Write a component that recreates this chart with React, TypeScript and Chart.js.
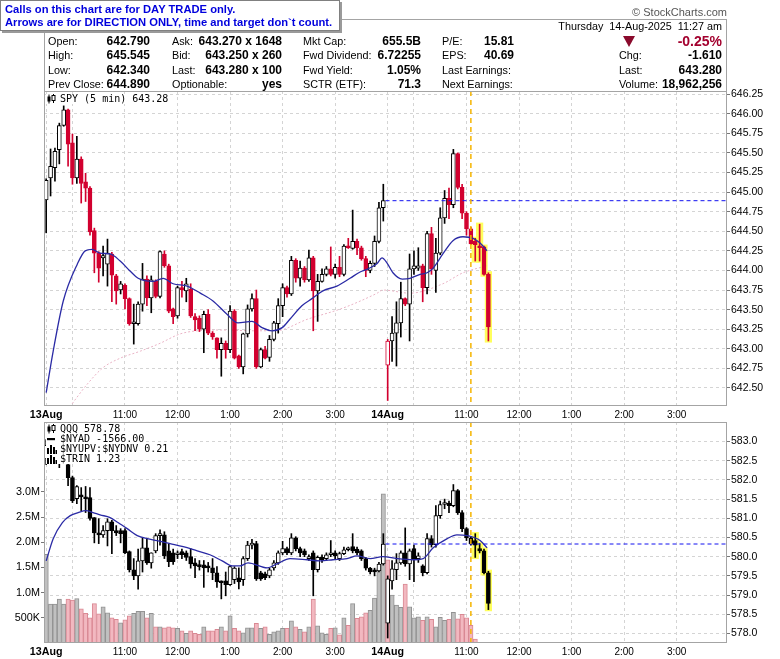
import React, { useEffect, useRef } from 'react';
import { Chart, registerables } from 'chart.js';

Chart.register(...registerables);

// ---------------- DATA ----------------
// 5-minute candles, index 0 = 13 Aug 9:30; index 78 = 14 Aug 9:30
const spyOpen = [644.90, 645.18, 645.31, 645.54, 645.85, 646.05, 645.63, 645.18, 645.42, 645.13,
  645.05, 644.51, 644.22, 644.16, 644.08, 644.21, 643.93, 643.75, 643.81, 643.64,
  643.32, 643.32, 643.57, 643.89, 643.65, 643.86, 643.67, 644.21, 644.06, 643.51,
  643.42, 643.78, 643.74, 643.76, 643.41, 643.39, 643.25, 643.44, 643.20, 643.14,
  642.99, 643.07, 642.99, 643.48, 642.91, 642.77, 643.19, 643.51, 643.64, 642.77,
  642.99, 642.89, 643.12, 643.32, 643.55, 643.78, 643.70, 644.13, 643.90, 644.03,
  643.88, 644.16, 643.74, 643.86, 643.95, 644.02, 643.95, 644.04, 643.95, 644.31,
  644.28, 644.37, 644.29, 644.15, 644.00, 644.09, 644.37, 644.80, 642.79, 643.10,
  643.20, 643.33, 643.64, 643.57, 644.02, 644.03, 644.06, 643.78, 644.47, 644.00,
  644.22, 644.67, 644.92, 644.84, 645.49, 645.06, 644.73, 644.53, 644.37, 644.31,
  644.30, 643.95];
const spyHigh = [645.17, 645.55, 645.56, 645.88, 646.10, 646.06, 645.74, 645.71, 645.45, 645.24,
  645.07, 644.54, 644.24, 644.31, 644.40, 644.23, 643.95, 643.86, 643.83, 643.65,
  643.57, 643.60, 644.09, 643.93, 643.93, 643.88, 644.25, 644.25, 644.08, 643.52,
  643.80, 643.86, 643.90, 643.83, 643.45, 643.42, 643.48, 643.50, 643.22, 643.14,
  643.14, 643.10, 643.55, 643.50, 642.92, 643.20, 643.56, 643.70, 643.75, 643.01,
  643.03, 643.17, 643.35, 643.64, 643.83, 643.80, 644.18, 644.15, 644.12, 644.05,
  644.26, 644.18, 643.95, 644.02, 644.05, 644.30, 644.08, 644.18, 644.33, 644.41,
  644.77, 644.40, 644.31, 644.18, 644.12, 644.44, 644.87, 645.10, 643.12, 643.41,
  643.60, 643.85, 643.65, 644.21, 644.25, 644.29, 644.08, 644.50, 644.55, 644.41,
  644.80, 645.02, 645.05, 645.545, 645.50, 645.10, 644.75, 644.55, 644.41, 644.59,
  644.31, 643.97];
const spyLow = [644.48, 644.95, 645.14, 645.36, 645.84, 645.33, 645.10, 645.11, 644.86, 644.88,
  644.45, 643.97, 643.85, 643.93, 643.80, 643.60, 643.57, 643.70, 643.51, 643.30,
  643.06, 643.30, 643.48, 643.55, 643.46, 643.65, 643.65, 644.04, 643.46, 643.32,
  643.39, 643.66, 643.60, 643.40, 643.23, 643.22, 642.95, 643.18, 643.12, 642.88,
  642.65, 642.88, 642.95, 642.87, 642.75, 642.68, 643.15, 643.48, 642.75, 642.76,
  642.87, 642.84, 643.10, 643.20, 643.41, 643.66, 643.68, 643.85, 643.80, 643.85,
  643.86, 643.23, 643.35, 643.85, 643.93, 643.93, 643.90, 643.92, 643.93, 644.28,
  644.27, 644.20, 644.13, 643.92, 643.97, 644.05, 644.35, 644.63, 642.34, 642.84,
  642.78, 643.15, 643.55, 643.10, 643.95, 644.00, 643.60, 643.70, 643.95, 643.72,
  644.20, 644.60, 644.66, 644.80, 645.04, 644.66, 644.45, 644.33, 644.12, 644.12,
  643.94, 643.10];
const spyClose = [645.15, 645.33, 645.52, 645.85, 646.05, 645.61, 645.18, 645.42, 645.11, 645.05,
  644.49, 644.22, 644.03, 644.19, 644.22, 643.94, 643.74, 643.83, 643.64, 643.32,
  643.33, 643.57, 643.89, 643.65, 643.88, 643.67, 644.24, 644.06, 643.48, 643.41,
  643.78, 643.75, 643.83, 643.42, 643.37, 643.25, 643.44, 643.20, 643.15, 642.99,
  643.07, 642.99, 643.48, 642.88, 642.77, 643.19, 643.51, 643.64, 642.77, 642.99,
  642.88, 643.12, 643.33, 643.55, 643.78, 643.70, 644.13, 643.90, 644.03, 643.88,
  644.16, 643.74, 643.86, 643.95, 644.02, 643.95, 644.04, 643.95, 644.31, 644.29,
  644.37, 644.29, 644.15, 644.00, 644.09, 644.37, 644.80, 644.89, 643.10, 643.20,
  643.33, 643.64, 643.57, 644.02, 644.06, 644.06, 643.78, 644.47, 644.02, 644.22,
  644.67, 644.92, 644.84, 645.49, 645.06, 644.73, 644.53, 644.34, 644.33, 644.29,
  643.95, 643.28];

const qqqOpen = [582.55, 582.90, 583.10, 583.25, 582.80, 582.40, 582.06, 581.51, 581.60, 581.56,
  581.54, 581.02, 580.62, 580.57, 580.68, 580.91, 580.68, 580.68, 580.68, 580.13,
  579.66, 579.50, 579.89, 580.23, 579.84, 580.15, 580.55, 580.57, 580.15, 580.10,
  580.05, 580.13, 580.10, 580.00, 579.84, 579.79, 579.79, 579.76, 579.71, 579.58,
  579.37, 579.37, 579.27, 579.40, 579.45, 579.40, 579.95, 580.30, 580.34, 579.58,
  579.55, 579.50, 579.71, 579.84, 580.10, 580.21, 580.10, 580.49, 580.21, 580.15,
  579.95, 580.10, 579.66, 579.98, 579.95, 580.05, 580.10, 579.95, 580.08, 580.18,
  580.26, 580.20, 580.15, 579.95, 579.70, 579.66, 579.63, 579.81, 578.27, 579.37,
  579.66, 579.84, 580.10, 579.81, 580.21, 579.95, 579.76, 579.58, 580.47, 580.31,
  581.07, 581.36, 581.40, 581.33, 581.72, 581.15, 580.73, 580.49, 580.42, 580.21,
  580.15, 579.58];
const qqqHigh = [583.05, 583.20, 583.35, 583.40, 583.00, 582.43, 582.10, 581.85, 581.80, 581.83,
  581.80, 581.02, 580.99, 580.81, 580.99, 580.95, 580.81, 580.73, 580.73, 580.15,
  579.95, 580.20, 580.50, 580.45, 580.10, 580.60, 580.70, 580.65, 580.34, 580.20,
  580.15, 580.20, 580.15, 580.21, 579.95, 579.90, 579.90, 579.85, 579.95, 579.74,
  579.37, 579.60, 579.76, 579.74, 579.71, 580.00, 580.40, 580.45, 580.40, 579.62,
  579.60, 579.70, 579.90, 580.15, 580.40, 580.25, 580.60, 580.52, 580.25, 580.20,
  580.05, 580.15, 580.02, 580.05, 580.10, 580.42, 580.15, 580.12, 580.25, 580.25,
  580.60, 580.25, 580.18, 579.98, 579.72, 579.70, 579.85, 580.60, 579.50, 579.90,
  580.08, 580.15, 580.75, 580.20, 580.30, 580.10, 579.79, 580.60, 580.55, 581.33,
  581.45, 581.50, 581.45, 581.88, 581.75, 581.20, 580.76, 580.52, 580.60, 580.34,
  580.20, 579.62];
const qqqLow = [582.40, 582.75, 582.95, 582.32, 582.55, 581.85, 581.41, 581.38, 581.20, 581.15,
  580.95, 580.36, 580.34, 580.50, 580.28, 580.08, 580.55, 580.36, 580.08, 579.60,
  579.40, 579.15, 579.60, 579.80, 579.70, 580.10, 580.30, 579.95, 579.74, 579.80,
  579.95, 579.95, 579.90, 579.70, 579.45, 579.65, 579.20, 579.60, 579.40, 579.20,
  578.90, 578.98, 579.25, 579.30, 579.16, 579.25, 579.90, 580.20, 579.38, 579.38,
  579.40, 579.45, 579.65, 579.80, 580.05, 580.05, 580.05, 580.15, 580.00, 580.00,
  579.90, 578.98, 579.60, 579.85, 579.90, 580.00, 579.95, 579.90, 580.05, 580.15,
  580.10, 580.05, 579.90, 579.65, 579.55, 579.50, 579.60, 579.78, 577.88, 579.15,
  579.40, 579.80, 579.75, 579.40, 579.35, 579.85, 579.50, 579.55, 580.25, 580.25,
  581.00, 581.25, 581.15, 581.30, 581.10, 580.65, 580.42, 580.30, 579.98, 580.10,
  579.55, 578.62];
const qqqClose = [582.90, 583.10, 583.25, 582.80, 582.70, 582.06, 581.46, 581.83, 581.56, 581.51,
  581.00, 580.62, 580.57, 580.68, 580.91, 580.68, 580.62, 580.60, 580.10, 579.66,
  579.50, 579.89, 580.23, 579.84, 580.10, 580.55, 580.60, 580.02, 579.87, 579.87,
  580.10, 580.05, 579.98, 579.81, 579.76, 579.74, 579.71, 579.71, 579.58, 579.34,
  579.32, 579.27, 579.74, 579.70, 579.34, 579.95, 580.30, 580.34, 579.42, 579.42,
  579.45, 579.66, 579.84, 580.10, 580.21, 580.10, 580.49, 580.21, 580.10, 580.05,
  579.98, 579.66, 579.98, 579.92, 580.05, 580.10, 580.02, 580.08, 580.18, 580.21,
  580.15, 580.10, 579.95, 579.70, 579.60, 579.60, 579.81, 580.33, 579.42, 579.68,
  579.84, 580.10, 579.81, 580.15, 579.95, 580.02, 579.58, 580.47, 580.31, 581.07,
  581.36, 581.40, 581.33, 581.72, 581.15, 580.73, 580.49, 580.34, 580.30, 580.15,
  579.58, 578.78];

// SPY volume, millions of shares per 5-min bar
const spyVolume = [1.76, 0.77, 0.77, 0.87, 0.77, 0.87, 0.85, 0.88, 0.68, 0.59,
  0.50, 0.78, 0.58, 0.72, 0.60, 0.50, 0.47, 0.40, 0.46, 0.54,
  0.59, 0.63, 0.63, 0.50, 0.59, 0.32, 0.32, 0.30, 0.32, 0.30,
  0.29, 0.24, 0.19, 0.24, 0.19, 0.17, 0.32, 0.24, 0.24, 0.27,
  0.32, 0.24, 0.54, 0.29, 0.24, 0.20, 0.30, 0.30, 0.39, 0.29,
  0.32, 0.17, 0.22, 0.24, 0.29, 0.29, 0.44, 0.32, 0.27, 0.22,
  0.32, 0.87, 0.34, 0.20, 0.17, 0.29, 0.30, 0.16, 0.50, 0.35,
  0.78, 0.49, 0.52, 0.60, 0.65, 0.89, 1.49, 2.96, 1.65, 0.95,
  0.75, 0.71, 1.17, 0.72, 0.50, 0.52, 0.45, 0.52, 0.47, 0.32,
  0.51, 0.45, 0.47, 0.61, 0.48, 0.57, 0.50, 0.35, 0.08, 0,
  0, 0];

// moving averages (bar position, value)
const spyFastX = [0, 1.6, 3.9, 7.1, 8.9, 10.5, 12.3, 14.6, 16.9, 19.2, 21, 24.4, 26.7, 29, 32.2, 35.2, 38.1, 41.3, 43.8, 47, 49.3, 51.6, 53.9, 55.7, 58.4, 60.7, 63.2, 66.4, 69.4, 71.7, 73.5, 75.6, 76.7, 77.9, 79.2, 81.3, 83.1, 85.4, 87, 88.4, 90.6, 92.9, 95.2, 97.5, 99.1, 100.7];
const spyFastY = [642.44, 642.97, 643.61, 644.08, 644.25, 644.27, 644.22, 644.21, 644.12, 643.99, 643.90, 643.86, 643.90, 643.83, 643.80, 643.71, 643.61, 643.44, 643.33, 643.35, 643.27, 643.23, 643.27, 643.38, 643.55, 643.64, 643.74, 643.80, 643.90, 643.98, 644.02, 644.09, 644.16, 644.09, 643.97, 643.89, 643.90, 643.95, 643.97, 644.03, 644.21, 644.38, 644.43, 644.41, 644.35, 644.25];
const spySlowX = [5.4, 9.4, 13, 16.9, 21.5, 26, 30.6, 34.5, 39.7, 47.3, 52.3, 59.8, 67.8, 75.6, 76.9, 83.1, 90.6, 95.2, 100.7];
const spySlowY = [642.26, 642.55, 642.76, 642.88, 642.97, 643.07, 643.19, 643.23, 643.24, 643.23, 643.23, 643.38, 643.52, 643.71, 643.75, 643.71, 643.83, 643.97, 644.06];
const qqqMaX = [0, 1.6, 3.7, 5.5, 7.3, 9.1, 10.7, 12.3, 14.6, 16.4, 18.5, 20.8, 23.1, 25.3, 28.3, 31.3, 34.5, 37.4, 40.2, 42.5, 44.3, 46.1, 50.5, 52.7, 55.7, 59.6, 62.6, 65.5, 68.7, 71, 74, 76.9, 80.1, 83.8, 86.1, 88.4, 91.6, 93.8, 96.1, 99.1, 100.7];
const qqqMaY = [579.89, 580.47, 580.89, 581.07, 581.15, 581.20, 581.15, 581.09, 581.02, 580.89, 580.73, 580.55, 580.47, 580.42, 580.34, 580.26, 580.15, 580.05, 579.89, 579.76, 579.76, 579.84, 579.71, 579.81, 579.95, 579.92, 579.89, 579.92, 579.95, 580.02, 579.95, 580.00, 579.95, 579.92, 579.95, 580.23, 580.47, 580.57, 580.55, 580.42, 580.23];

const spyPriceTicks = [642.5, 642.75, 643, 643.25, 643.5, 643.75, 644, 644.25, 644.5, 644.75, 645, 645.25, 645.5, 645.75, 646, 646.25];
const qqqPriceTicks = [578, 578.5, 579, 579.5, 580, 580.5, 581, 581.5, 582, 582.5, 583];
const volumeTicks = [0.5, 1.0, 1.5, 2.0, 2.5, 3.0];
const timeTickIdx = [0, 6, 18, 30, 42, 54, 66, 78, 84, 96, 108, 120, 132, 144];
const timeTickLabels = ['13Aug', '', '11:00', '12:00', '1:00', '2:00', '3:00', '14Aug', '', '11:00', '12:00', '1:00', '2:00', '3:00'];

const spyPrevClose = 644.89;
const qqqPrevClose = 580.33;
const dayStartIdx = 78;
const markerIdx = 97;
const highlightIdx = [98, 99, 100, 101];
const slotCount = 156;

// ---------------- STYLE ----------------
const FONT = "'Liberation Sans', Arial, sans-serif";
const MONO = "'DejaVu Sans Mono', monospace";
const RED = '#d2002f';
const GRID = '#d4d4d4';
const BLUE_MA = '#2a2aa5';

function xScale(height: number, pad: number) {
  return {
    type: 'linear',
    min: -0.5,
    max: slotCount - 0.5,
    offset: false,
    afterBuildTicks: (s: any) => { s.ticks = timeTickIdx.map((v) => ({ value: v })); },
    afterFit: (s: any) => { s.height = height; s.paddingLeft = 0; s.paddingRight = 0; },
    ticks: {
      autoSkip: false, maxRotation: 0, minRotation: 0, padding: pad, color: '#000',
      callback: (_v: any, i: number) => timeTickLabels[i],
      font: (ctx: any) => {
        const lab = timeTickLabels[ctx.index] || '';
        return lab && lab.indexOf(':') < 0
          ? { family: FONT, size: 10.7, weight: 'bold' }
          : { family: FONT, size: 10 };
      },
    },
    grid: { display: true, drawOnChartArea: true, drawTicks: false, color: GRID, offset: false },
    border: { display: false, dash: [3, 3] },
  };
}

function priceScale(ticks: number[], min: number, max: number, digits: number) {
  return {
    type: 'linear', position: 'right', min, max,
    afterBuildTicks: (s: any) => { s.ticks = ticks.map((v) => ({ value: v })); },
    afterFit: (s: any) => { s.width = 53; s.paddingTop = 0; s.paddingBottom = 0; },
    ticks: { callback: (v: any) => Number(v).toFixed(digits), font: { family: FONT, size: 10.5 }, color: '#000', padding: 1 },
    grid: { color: GRID, drawTicks: true, tickLength: 3, tickColor: '#777', tickBorderDash: [] },
    border: { display: false, dash: [3, 3] },
  };
}

function candleSets(o: number[], h: number[], l: number[], c: number[], mono: boolean, yAxisID: string) {
  const col = o.map((_, i) => (mono ? '#000' : (i === 0 || c[i] >= c[i - 1] ? '#000' : RED)));
  const fill = o.map((_, i) => (c[i] >= o[i] ? '#fff' : col[i]));
  return [
    {
      type: 'bar', label: 'hl', yAxisID, order: 8, grouped: false,
      data: highlightIdx.map((i) => ({ x: i, y: [l[i], h[i]] })),
      backgroundColor: '#ffff5c', borderWidth: 0, barThickness: 4, inflateAmount: 1.6,
    },
    {
      type: 'bar', label: 'wick', yAxisID, order: 6, grouped: false,
      data: o.map((_, i) => ({ x: i, y: [l[i], h[i]] })),
      backgroundColor: col, borderWidth: 0, barThickness: 1,
    },
    {
      type: 'bar', label: 'body', yAxisID, order: 5, grouped: false,
      data: o.map((_, i) => ({ x: i, y: [o[i], c[i]] })),
      backgroundColor: fill, borderColor: col, borderWidth: 1, borderSkipped: false,
      barThickness: 4, minBarLength: 2,
    },
  ];
}

function lineSet(xs: number[], ys: number[], color: string, width: number, dash: number[], yAxisID: string, order: number) {
  return {
    type: 'line', yAxisID, order,
    data: xs.map((x, i) => ({ x, y: ys[i] })),
    borderColor: color, borderWidth: width, borderDash: dash,
    pointRadius: 0, cubicInterpolationMode: 'monotone', fill: false,
  };
}

const framePlugin = {
  id: 'frame',
  afterDraw(chart: any) {
    const { ctx, chartArea: a } = chart;
    ctx.save();
    ctx.strokeStyle = '#a4a4a4';
    ctx.lineWidth = 1;
    ctx.setLineDash([]);
    ctx.strokeRect(Math.round(a.left) + 0.5, Math.round(a.top) + 0.5, Math.round(a.right - a.left) - 1, Math.round(a.bottom - a.top) - 1);
    ctx.restore();
  },
};

const markerPlugin = {
  id: 'marker',
  afterDatasetsDraw(chart: any) {
    const { ctx, chartArea: a } = chart;
    const x = chart.scales.x.getPixelForValue(markerIdx);
    ctx.save();
    ctx.strokeStyle = '#f5b400';
    ctx.lineWidth = 1.5;
    ctx.setLineDash([5, 4]);
    ctx.beginPath();
    ctx.moveTo(x, a.top);
    ctx.lineTo(x, a.bottom);
    ctx.stroke();
    ctx.restore();
  },
};

function topConfig(): any {
  return {
    type: 'bar',
    data: {
      datasets: [
        ...candleSets(spyOpen, spyHigh, spyLow, spyClose, false, 'y'),
        lineSet(spySlowX, spySlowY, '#eab4c6', 1, [2, 2], 'y', 7),
        lineSet(spyFastX, spyFastY, BLUE_MA, 1.3, [], 'y', 4),
        lineSet([dayStartIdx - 0.5, slotCount - 0.5], [spyPrevClose, spyPrevClose], '#1010f0', 1, [4, 3], 'y', 3),
      ],
    },
    options: {
      responsive: false, animation: false, events: [],
      layout: { padding: { left: 44, top: 91, right: 0, bottom: 0 } },
      plugins: { legend: { display: false }, tooltip: { enabled: false } },
      scales: {
        x: xScale(24, 3),
        y: priceScale(spyPriceTicks, 642.27, 646.29, 2),
      },
    },
    plugins: [markerPlugin, framePlugin],
  };
}

function bottomConfig(): any {
  const volCol = spyVolume.map((_, i) => (i === 0 || spyClose[i] >= spyClose[i - 1]));
  return {
    type: 'bar',
    data: {
      datasets: [
        {
          type: 'bar', label: 'vol', yAxisID: 'yv', order: 9, grouped: false,
          data: spyVolume.map((v, i) => ({ x: i, y: v })),
          backgroundColor: volCol.map((u) => (u ? '#c0c0c0' : '#f2b8c0')),
          borderColor: volCol.map((u) => (u ? '#929292' : '#d98893')),
          borderWidth: 1, borderSkipped: 'start', barThickness: 4.3,
        },
        ...candleSets(qqqOpen, qqqHigh, qqqLow, qqqClose, true, 'y'),
        lineSet(qqqMaX, qqqMaY, BLUE_MA, 1.3, [], 'y', 4),
        lineSet([dayStartIdx - 0.5, slotCount - 0.5], [qqqPrevClose, qqqPrevClose], '#1010f0', 1, [4, 3], 'y', 3),
      ],
    },
    options: {
      responsive: false, animation: false, events: [],
      layout: { padding: { left: 0, top: 3, right: 0, bottom: 0 } },
      plugins: { legend: { display: false }, tooltip: { enabled: false } },
      scales: {
        x: xScale(16, 3),
        y: priceScale(qqqPriceTicks, 577.75, 583.51, 1),
        yv: {
          type: 'linear', position: 'left', min: 0, max: 4.385,
          afterBuildTicks: (s: any) => { s.ticks = volumeTicks.map((v) => ({ value: v })); },
          afterFit: (s: any) => { s.width = 44; s.paddingTop = 0; s.paddingBottom = 0; },
          ticks: {
            callback: (v: any) => (v < 1 ? Math.round(v * 1000) + 'K' : Number(v).toFixed(1) + 'M'),
            font: { family: FONT, size: 10.8 }, color: '#000', padding: 1,
          },
          grid: { drawOnChartArea: false, drawTicks: true, tickLength: 3, tickColor: '#777' },
          border: { display: false },
        },
      },
    },
    plugins: [markerPlugin, framePlugin],
  };
}

// ---------------- TEXT HELPERS ----------------
function T(props: { x: number; y: number; right?: boolean; bold?: boolean; size?: number; color?: string; children: any }) {
  const size = props.size || 10.8;
  const lh = Math.round(size * 1.3);
  const style: any = {
    position: 'absolute', top: props.y - lh / 2, lineHeight: lh + 'px', fontSize: size,
    fontWeight: props.bold ? 'bold' : 'normal', color: props.color || '#000', whiteSpace: 'pre', fontFamily: FONT,
  };
  if (props.right) style.right = 780 - props.x; else style.left = props.x;
  return <div style={style}>{props.children}</div>;
}

const CandleIcon = () => (
  <svg width="10" height="10" viewBox="0 0 10 10" style={{ display: 'block' }}>
    <line x1="2" y1="0.5" x2="2" y2="9.5" stroke="#000" strokeWidth="1" />
    <rect x="0.5" y="2.5" width="3" height="5" fill="#000" />
    <line x1="6.5" y1="0" x2="6.5" y2="9" stroke="#000" strokeWidth="1" />
    <rect x="5" y="1.5" width="3" height="5" fill="#fff" stroke="#000" strokeWidth="1" />
  </svg>
);
const DashIcon = () => (
  <svg width="10" height="10" viewBox="0 0 10 10" style={{ display: 'block' }}>
    <rect x="0" y="4" width="8" height="2.2" fill="#000" />
  </svg>
);
const BarsIcon = () => (
  <svg width="10" height="10" viewBox="0 0 10 10" style={{ display: 'block' }}>
    <rect x="0" y="4" width="2" height="6" fill="#000" />
    <rect x="3" y="1" width="2" height="9" fill="#000" />
    <rect x="6" y="3" width="2" height="7" fill="#000" />
    <rect x="8.5" y="6" width="1.5" height="4" fill="#000" />
  </svg>
);

function Leg(props: { top: number; icon: any; text: string }) {
  return (
    <div style={{
      position: 'absolute', left: 46, top: props.top, height: 10, background: '#fff',
      display: 'flex', alignItems: 'center', fontFamily: MONO, fontSize: 10, lineHeight: '10px',
      whiteSpace: 'pre', paddingRight: 2, color: '#000',
    }}>
      <span style={{ width: 13, display: 'inline-block', paddingLeft: 1 }}>{props.icon}</span>
      {props.text}
    </div>
  );
}

export default function App() {
  const topRef = useRef<HTMLCanvasElement>(null);
  const botRef = useRef<HTMLCanvasElement>(null);

  useEffect(() => {
    Chart.defaults.font.family = FONT;
    const c1 = new Chart(topRef.current as HTMLCanvasElement, topConfig());
    const c2 = new Chart(botRef.current as HTMLCanvasElement, bottomConfig());
    return () => { c1.destroy(); c2.destroy(); };
  }, []);

  const rows = [41, 55, 70, 84];
  return (
    <div style={{ position: 'absolute', left: 0, top: 0, width: 780, height: 659, background: '#fff', overflow: 'hidden', fontFamily: FONT }}>
      <canvas ref={topRef} width={780} height={430} style={{ position: 'absolute', left: 0, top: 0 }} />
      <canvas ref={botRef} width={780} height={240} style={{ position: 'absolute', left: 0, top: 419 }} />

      {/* header box */}
      <div style={{ position: 'absolute', left: 44, top: 19, width: 683, height: 73, border: '1px solid #a4a4a4', boxSizing: 'border-box' }} />
      <T x={727} y={12} right size={11} color="#555">© StockCharts.com</T>

      <T x={48} y={rows[0]}>Open:</T>
      <T x={48} y={rows[1]}>High:</T>
      <T x={48} y={rows[2]}>Low:</T>
      <T x={48} y={rows[3]}>Prev Close:</T>
      <T x={150} y={rows[0]} right bold size={12}>642.790</T>
      <T x={150} y={rows[1]} right bold size={12}>645.545</T>
      <T x={150} y={rows[2]} right bold size={12}>642.340</T>
      <T x={150} y={rows[3]} right bold size={12}>644.890</T>

      <T x={172} y={rows[0]}>Ask:</T>
      <T x={172} y={rows[1]}>Bid:</T>
      <T x={172} y={rows[2]}>Last:</T>
      <T x={172} y={rows[3]}>Optionable:</T>
      <T x={282} y={rows[0]} right bold size={12}>643.270 x 1648</T>
      <T x={282} y={rows[1]} right bold size={12}>643.250 x 260</T>
      <T x={282} y={rows[2]} right bold size={12}>643.280 x 100</T>
      <T x={282} y={rows[3]} right bold size={12}>yes</T>

      <T x={303} y={rows[0]}>Mkt Cap:</T>
      <T x={303} y={rows[1]}>Fwd Dividend:</T>
      <T x={303} y={rows[2]}>Fwd Yield:</T>
      <T x={303} y={rows[3]}>SCTR (ETF):</T>
      <T x={421} y={rows[0]} right bold size={12}>655.5B</T>
      <T x={421} y={rows[1]} right bold size={12}>6.72255</T>
      <T x={421} y={rows[2]} right bold size={12}>1.05%</T>
      <T x={421} y={rows[3]} right bold size={12}>71.3</T>

      <T x={442} y={rows[0]}>P/E:</T>
      <T x={442} y={rows[1]}>EPS:</T>
      <T x={442} y={rows[2]}>Last Earnings:</T>
      <T x={442} y={rows[3]}>Next Earnings:</T>
      <T x={514} y={rows[0]} right bold size={12}>15.81</T>
      <T x={514} y={rows[1]} right bold size={12}>40.69</T>

      <T x={722} y={26} right>{'Thursday  14-Aug-2025  11:27 am'}</T>
      <div style={{ position: 'absolute', left: 623, top: 36, width: 0, height: 0, borderLeft: '6.5px solid transparent', borderRight: '6.5px solid transparent', borderTop: '11px solid #8a0a2c' }} />
      <T x={722} y={rows[0]} right bold size={14} color="#a3002e">-0.25%</T>
      <T x={619} y={rows[1]}>Chg:</T>
      <T x={619} y={rows[2]}>Last:</T>
      <T x={619} y={rows[3]}>Volume:</T>
      <T x={722} y={rows[1]} right bold size={12}>-1.610</T>
      <T x={722} y={rows[2]} right bold size={12}>643.280</T>
      <T x={722} y={rows[3]} right bold size={12}>18,962,256</T>

      {/* calls note */}
      <div style={{
        position: 'absolute', left: 0, top: 0, width: 340, height: 31, boxSizing: 'border-box', background: '#fff',
        border: '1px solid #808080', boxShadow: '2px 2px 0 #9a9a9a', color: '#0000dd', fontWeight: 'bold',
        fontSize: 11.2, lineHeight: '12.5px', padding: '2px 0 0 4px', whiteSpace: 'pre', fontFamily: FONT,
      }}>
        <div>Calls on this chart are for DAY TRADE only.</div>
        <div>Arrows are for DIRECTION ONLY, time and target don`t count.</div>
      </div>

      {/* panel legends */}
      <Leg top={94} icon={<CandleIcon />} text="SPY (5 min) 643.28" />
      <Leg top={424} icon={<CandleIcon />} text="QQQ 578.78" />
      <Leg top={434} icon={<DashIcon />} text="$NYAD -1566.00" />
      <Leg top={444} icon={<BarsIcon />} text="$NYUPV:$NYDNV 0.21" />
      <Leg top={454} icon={<BarsIcon />} text="$TRIN 1.23" />
    </div>
  );
}
